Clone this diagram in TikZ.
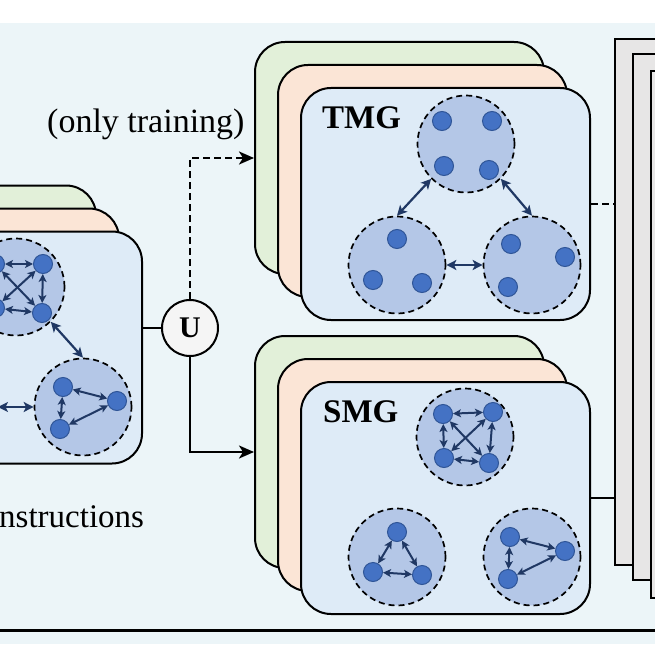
\documentclass[tikz,border=0pt]{standalone}
\usepackage{fontspec}
\setmainfont{Liberation Serif}
\usetikzlibrary{arrows.meta}
\definecolor{bgc}{HTML}{ECF5F8}
\definecolor{cgreen}{HTML}{E2F0D9}
\definecolor{corange}{HTML}{FBE5D6}
\definecolor{cblue}{HTML}{DEEBF7}
\definecolor{clblue}{HTML}{B4C7E7}
\definecolor{dotfill}{HTML}{4472C4}
\definecolor{dotedge}{HTML}{2F5597}
\definecolor{navy}{HTML}{203864}
\definecolor{grayc}{HTML}{E7E6E6}
\begin{document}
\begin{tikzpicture}[x=1pt,y=-1pt,
  card/.style={draw=black, line width=2pt, rounded corners=30pt, minimum width=289pt, minimum height=232pt, inner sep=0pt},
  grect/.style={draw=black, line width=2pt, fill=grayc, minimum width=90pt, minimum height=526pt, inner sep=0pt},
  clus/.style={circle, draw=black, fill=clblue, line width=1.7pt, dash pattern=on 6pt off 4pt, minimum size=97pt, inner sep=0pt},
  dot/.style={circle, draw=dotedge, fill=dotfill, line width=1pt, minimum size=19pt, inner sep=0pt},
  bi/.style={draw=navy, line width=2pt, {Stealth[length=8pt,width=8pt,inset=2pt]}-{Stealth[length=8pt,width=8pt,inset=2pt]}},
  bib/.style={draw=navy, line width=2.2pt, {Stealth[length=10pt,width=10pt,inset=2.5pt]}-{Stealth[length=10pt,width=10pt,inset=2.5pt]}},
  conn/.style={draw=black, line width=2.4pt},
  big/.style={anchor=base west, inner sep=0pt, font=\fontsize{34}{40}\selectfont},
  lab/.style={anchor=base west, inner sep=0pt, font=\bfseries\fontsize{33}{33}\selectfont}]
\useasboundingbox (0,0) rectangle (655,655);
\clip (0,0) rectangle (655,655);
\fill[bgc] (0,23) rectangle (655,644);
\draw[line width=3pt] (0,630) -- (655,630);

% gray stack on the right
\node[grect] (g1) at (660,302) {};
\node[grect] (g2) at (678,317) {};
\node[grect] (g3) at (696,334.5) {};

% left stack
\node[card, fill=cgreen] (lg) at (-48.5,301.5) {};
\node[card, fill=corange] (lo) at (-25.5,324.5) {};
\node[card, fill=cblue] (lb) at (-2.5,347.5) {};
% TMG stack
\node[card, fill=cgreen] (tg) at (399.5,158) {};
\node[card, fill=corange] (to) at (422.5,181) {};
\node[card, fill=cblue] (tb) at (445.5,204) {};
% SMG stack
\node[card, fill=cgreen] (sg) at (399.5,452) {};
\node[card, fill=corange] (so) at (422.5,475) {};
\node[card, fill=cblue] (sb) at (445.5,498) {};

% texts
\node[big] (ot) at (47,133) {(only training)};
\node[big, font=\fontsize{33}{40}\selectfont] (ins) at (-1,527) {nstructions};
\node[lab] (tmg) at (322,129) {TMG};
\node[lab] (smg) at (323,422) {SMG};

% U node and connectors
\node[circle, draw=black, line width=2pt, fill=gray!8, minimum size=56pt, inner sep=0pt, font=\bfseries\fontsize{30}{30}\selectfont] (U) at (190,328) {U};
\draw[conn] (U.west) -- (U.west -| lb.east);
\draw[conn, dash pattern=on 7pt off 4pt, -{Stealth[length=15pt,width=13pt,inset=4pt]}] (U.north) |- (tg.west);
\draw[conn, -{Stealth[length=15pt,width=13pt,inset=4pt]}] (U.south) |- (sg.west);
\draw[conn, dash pattern=on 7pt off 4pt] (tb.east) -- (tb.east -| g1.west);
\draw[conn] (sb.east) -- (sb.east -| g1.west);

% clusters
\node[clus] (tc1) at (466,144) {};
\node[clus] (tc2) at (397,265) {};
\node[clus] (tc3) at (532,265) {};
\node[clus] (sc1) at (465,437) {};
\node[clus] (sc2) at (397,557) {};
\node[clus] (sc3) at (532,557) {};
\node[clus] (lc1) at (16,287) {};
\node[clus] (lc3) at (83,407) {};
\coordinate (lc2e) at (-2,407);

% TMG dots
\node[dot] (ta1) at (442,121) {};
\node[dot] (ta2) at (492,121) {};
\node[dot] (ta3) at (444,166) {};
\node[dot] (ta4) at (489,170) {};
\node[dot] (tb1) at (397,239) {};
\node[dot] (tb2) at (373,280) {};
\node[dot] (tb3) at (422,283) {};
\node[dot] (tr1) at (511,244) {};
\node[dot] (tr2) at (565,257) {};
\node[dot] (tr3) at (508,287) {};
% SMG dots
\node[dot] (sa1) at (443,414) {};
\node[dot] (sa2) at (493,412) {};
\node[dot] (sa3) at (444,458) {};
\node[dot] (sa4) at (489,463) {};
\node[dot] (sl1) at (397,532) {};
\node[dot] (sl2) at (373,572) {};
\node[dot] (sl3) at (422,575) {};
\node[dot] (sr1) at (510,537) {};
\node[dot] (sr2) at (565,551) {};
\node[dot] (sr3) at (508,579) {};
% left dots
\node[dot] (la1) at (-5,264) {};
\node[dot] (la2) at (43,264) {};
\node[dot] (la3) at (-5,308) {};
\node[dot] (la4) at (42,313) {};
\node[dot] (lr1) at (63,387) {};
\node[dot] (lr2) at (117,401) {};
\node[dot] (lr3) at (60,429) {};

% cluster-to-cluster arrows
\draw[bib] (tc1.225) -- (tc2.90);
\draw[bib] (tc1.-45) -- (tc3.90);
\draw[bib] (tc2.east) -- (tc3.west);
\draw[bib] (lc1.-45) -- (lc3.90);
\draw[bib] (lc2e) -- (lc3.west);

% inner arrows
\foreach \p in {s,l}{
  \draw[bi] (\p a1) -- (\p a2);
  \draw[bi] (\p a3) -- (\p a4);
  \draw[bi] (\p a1) -- (\p a3);
  \draw[bi] (\p a2) -- (\p a4);
  \draw[bi] (\p a1) -- (\p a4);
  \draw[bi] (\p a2) -- (\p a3);
}
\draw[bi] (sl1) -- (sl2);
\draw[bi] (sl1) -- (sl3);
\draw[bi] (sl2) -- (sl3);
\foreach \p in {sr,lr}{
  \draw[bi] (\p1) -- (\p2);
  \draw[bi] (\p1) -- (\p3);
  \draw[bi] (\p2) -- (\p3);
}
\end{tikzpicture}
\end{document}
